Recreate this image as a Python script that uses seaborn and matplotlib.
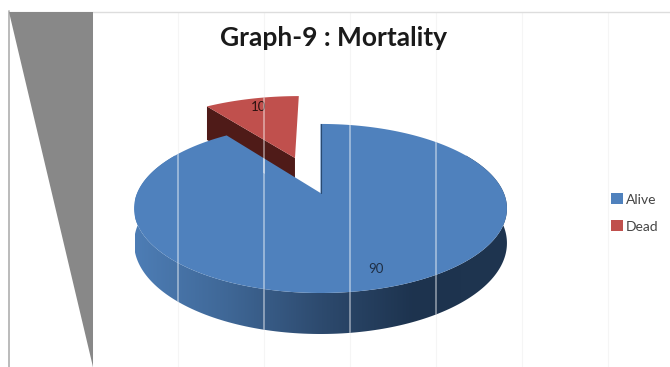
import numpy as np
import matplotlib
matplotlib.use("Agg")
import matplotlib.pyplot as plt
from matplotlib.colors import LinearSegmentedColormap
from matplotlib.patches import Patch, Polygon
import seaborn as sns

# Mortality figures
categories = ["Alive", "Dead"]
values = [90, 10]
title = "Graph-9 : Mortality"

sns.set_theme(style="white")
plt.rcParams["font.family"] = ["Lato", "DejaVu Sans"]
palette = sns.color_palette(["#4f81bd", "#c0504d"])

# Projection of the tilted disc on to the canvas (pixel units)
CX, CY = 320.5, 193.0
RX, RY = 183.3, 81.7
PERSP = 0.183
DEPTH = 33.5
EXPLODE = 0.489
EXPLODED_RADIUS = 1.05


def project(u, v, drop=0.0):
    w = 1 + PERSP * v
    return CX + RX * u / w, CY - RY * v / w + drop / w


def wedge(start, stop, offset=(0.0, 0.0), radius=1.0, n=200):
    """Outline of a slice between two clockwise angles measured from the top."""
    t = np.radians(np.linspace(start, stop, n))
    u = np.r_[offset[0], offset[0] + radius * np.sin(t)]
    v = np.r_[offset[1], offset[1] + radius * np.cos(t)]
    return np.column_stack(project(u, v))


def rim(start, stop, drop, n=200):
    t = np.radians(np.linspace(start, stop, n))
    return np.column_stack(project(np.sin(t), np.cos(t), drop))


fig = plt.figure(figsize=(6.7, 3.67), dpi=100, facecolor="white")
ax = fig.add_axes([0, 0, 1, 1])
ax.set_axis_off()

alive_sweep = 360 * values[0] / sum(values)
dead_mid = np.radians(alive_sweep + (360 - alive_sweep) / 2)
offset = (EXPLODE * np.sin(dead_mid), EXPLODE * np.cos(dead_mid))

# Faint background gridlines
grid_x = [92, 178, 264, 350, 436, 522, 608]
ax.vlines(grid_x, 12, 367, color="#f5f5f5", lw=0.8, zorder=1)

# Frame and the grey sliver on the left
ax.plot([8.5, 8.5], [11, 367], color="#b5b5b5", lw=1.3, zorder=2)
ax.plot([8.5, 670], [11.5, 11.5], color="#dddddd", lw=1.0, zorder=2)
ax.add_patch(Polygon([(9, 12), (93, 12), (93, 367)], closed=True,
                     fc="#888888", ec="none", zorder=3))

# Exploded slice: dark cut wall below its top face
dead_top = wedge(alive_sweep, 360, offset, EXPLODED_RADIUS)
apex, rim_left = dead_top[0], dead_top[1]
wall = np.array([apex, rim_left, rim_left + [0, DEPTH], apex + [0, DEPTH]])
dead_wall = Polygon(wall, closed=True, fc="#4f1b18", ec="none", zorder=4)
ax.add_patch(dead_wall)
dead_face = Polygon(dead_top, closed=True, fc=palette[1], ec="none", zorder=5)
ax.add_patch(dead_face)

# Main slice: shaded side band, then the top face
side_pts = np.vstack([rim(60, 300, 0.0), rim(60, 300, DEPTH)[::-1]])
side = Polygon(side_pts, closed=True, fc="none", ec="none", zorder=6)
ax.add_patch(side)
shade = LinearSegmentedColormap.from_list(
    "side", ["#4d7db5", "#3f6796", "#2d4a6e", "#1d334e", "#1f3550"])
band = ax.imshow(np.linspace(0, 1, 256)[None, :], cmap=shade, aspect="auto",
                 extent=(135, 508, 360, 120), zorder=6)
band.set_clip_path(side)
alive_face = Polygon(wedge(0, alive_sweep), closed=True, fc=palette[0],
                     ec="none", zorder=7)
ax.add_patch(alive_face)
ax.plot([CX, CX], [CY, project(0, 1)[1]], color="#2a4a70", lw=0.8, zorder=7)

# Data labels sit beneath the pale lines that cross the pie
ax.text(376, 269, str(values[0]), ha="center", va="center", fontsize=9.5,
        color="#1f2f45", zorder=8)
ax.text(259, 107, str(values[1]), ha="center", va="center", fontsize=9.5,
        color="#2b1210", zorder=8)

for patch in (dead_wall, dead_face, side, alive_face):
    lines = ax.vlines(grid_x[1:5], 12, 367, color="white", alpha=0.45, lw=1.3, zorder=9)
    lines.set_clip_path(patch)

ax.text(333, 38, title, ha="center", va="center", fontsize=19,
        fontweight="bold", color="#1a1a1a", zorder=10)

handles = [Patch(fc=c, ec="none") for c in palette]
ax.legend(handles, categories, loc="center left", bbox_to_anchor=(611 / 670, 1 - 213 / 367),
          frameon=False, fontsize=10, handlelength=0.85, handleheight=0.85,
          handletextpad=0.2, labelspacing=1.05, borderpad=0, borderaxespad=0,
          labelcolor="#444444")

ax.set_xlim(0, 670)
ax.set_ylim(367, 0)
fig.savefig("out.png", dpi=100)
